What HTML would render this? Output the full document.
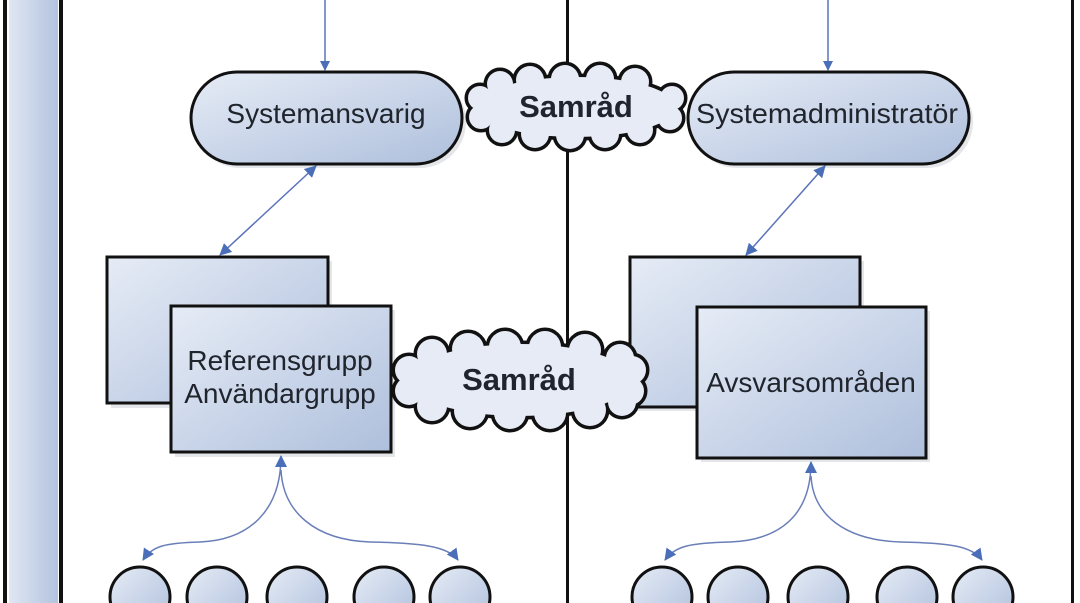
<!DOCTYPE html>
<html><head><meta charset="utf-8"><style>
html,body{margin:0;padding:0;background:#fff;}
svg{display:block;}
text{font-family:"Liberation Sans",Arial,sans-serif;fill:#20242c;}
</style></head><body>
<svg width="1080" height="603" viewBox="0 0 1080 603" xmlns="http://www.w3.org/2000/svg">
<defs>
<linearGradient id="g" x1="0" y1="0" x2="1" y2="1">
<stop offset="0" stop-color="#e6ecf6"/><stop offset="1" stop-color="#aebfdc"/>
</linearGradient>
<linearGradient id="gb" x1="0" y1="0" x2="1" y2="0">
<stop offset="0" stop-color="#dfe7f3"/><stop offset="1" stop-color="#b3c3df"/>
</linearGradient>
<marker id="ah" markerWidth="10" markerHeight="10" refX="9" refY="5" orient="auto" markerUnits="userSpaceOnUse">
<path d="M0,0 L10,5 L0,10 z" fill="#4a6fb8"/></marker>
<marker id="as" markerWidth="12" markerHeight="12" refX="1" refY="6" orient="auto" markerUnits="userSpaceOnUse">
<path d="M12,0 L0,6 L12,12 z" fill="#4a6fb8"/></marker>
<marker id="ae" markerWidth="12" markerHeight="12" refX="11" refY="6" orient="auto" markerUnits="userSpaceOnUse">
<path d="M0,0 L12,6 L0,12 z" fill="#4a6fb8"/></marker>
</defs>

<rect x="9" y="-5" width="49" height="620" fill="url(#gb)"/>
<rect x="3" y="-5" width="4" height="620" fill="#111"/>
<rect x="59" y="-5" width="4" height="620" fill="#111"/>
<rect x="566" y="0" width="3" height="603" fill="#111"/>
<rect x="1071" y="0" width="3" height="603" fill="#111"/>

<line x1="325" y1="0" x2="325" y2="70" stroke="#5a72bb" stroke-width="1.5" marker-end="url(#ah)"/>
<line x1="828" y1="0" x2="828" y2="70" stroke="#5a72bb" stroke-width="1.5" marker-end="url(#ah)"/>

<rect x="194" y="75" width="272" height="93" rx="46" fill="#e4e6ea"/>
<rect x="191" y="72" width="271" height="92" rx="46" fill="url(#g)" stroke="#111" stroke-width="3"/>
<text x="326" y="123" font-size="28" text-anchor="middle">Systemansvarig</text>
<rect x="691" y="75" width="282" height="93" rx="46" fill="#e4e6ea"/>
<rect x="688" y="72" width="281" height="92" rx="46" fill="url(#g)" stroke="#111" stroke-width="3"/>
<text x="827" y="123" font-size="28" text-anchor="middle" textLength="262" lengthAdjust="spacingAndGlyphs">Systemadministratör</text>

<!-- cloud 1 -->
<g stroke="#111" stroke-width="7" fill="#111">
<ellipse cx="576" cy="107" rx="100" ry="30"/>
<circle cx="500" cy="84" r="13"/><circle cx="530" cy="80" r="14"/><circle cx="565" cy="79" r="14"/><circle cx="600" cy="79" r="14"/><circle cx="635" cy="82" r="14"/>
<circle cx="502" cy="130" r="13"/><circle cx="535" cy="134" r="14"/><circle cx="570" cy="135" r="14"/><circle cx="605" cy="134" r="14"/><circle cx="640" cy="130" r="13"/>
<circle cx="480" cy="98" r="12"/><circle cx="481" cy="117" r="12"/><circle cx="672" cy="98" r="12"/><circle cx="670" cy="118" r="12"/>
</g>
<g fill="#e6ebf5">
<ellipse cx="576" cy="107" rx="100" ry="30"/>
<circle cx="500" cy="84" r="13"/><circle cx="530" cy="80" r="14"/><circle cx="565" cy="79" r="14"/><circle cx="600" cy="79" r="14"/><circle cx="635" cy="82" r="14"/>
<circle cx="502" cy="130" r="13"/><circle cx="535" cy="134" r="14"/><circle cx="570" cy="135" r="14"/><circle cx="605" cy="134" r="14"/><circle cx="640" cy="130" r="13"/>
<circle cx="480" cy="98" r="12"/><circle cx="481" cy="117" r="12"/><circle cx="672" cy="98" r="12"/><circle cx="670" cy="118" r="12"/>
</g>
<text x="576" y="117" font-size="31" font-weight="bold" text-anchor="middle">Samråd</text>

<line x1="316" y1="166" x2="220" y2="255" stroke="#5a72bb" stroke-width="1.5" marker-start="url(#as)" marker-end="url(#ae)"/>
<line x1="825" y1="166" x2="746" y2="255" stroke="#5a72bb" stroke-width="1.5" marker-start="url(#as)" marker-end="url(#ae)"/>

<rect x="111" y="261" width="221" height="147" fill="#e4e6ea"/>
<rect x="107" y="257" width="221" height="146" fill="url(#g)" stroke="#111" stroke-width="3"/>
<rect x="175" y="310" width="220" height="147" fill="#e4e6ea"/>
<rect x="171" y="306" width="220" height="146" fill="url(#g)" stroke="#111" stroke-width="3"/>
<text x="280" y="370" font-size="28" text-anchor="middle">Referensgrupp</text>
<text x="280" y="403" font-size="28" text-anchor="middle">Användargrupp</text>

<rect x="634" y="261" width="230" height="150" fill="#e4e6ea"/>
<rect x="630" y="257" width="230" height="150" fill="url(#g)" stroke="#111" stroke-width="3"/>
<rect x="701" y="311" width="229" height="151" fill="#e4e6ea"/>
<rect x="697" y="307" width="229" height="151" fill="url(#g)" stroke="#111" stroke-width="3"/>
<text x="811" y="392" font-size="28" text-anchor="middle">Avsvarsområden</text>

<!-- cloud 2 -->
<g stroke="#111" stroke-width="7" fill="#111">
<ellipse cx="520" cy="380" rx="112" ry="36"/>
<circle cx="432" cy="354" r="15"/><circle cx="468" cy="349" r="16"/><circle cx="505" cy="347" r="16"/><circle cx="545" cy="347" r="16"/><circle cx="585" cy="350" r="16"/><circle cx="620" cy="358" r="14"/>
<circle cx="432" cy="406" r="15"/><circle cx="470" cy="411" r="16"/><circle cx="510" cy="413" r="16"/><circle cx="550" cy="413" r="16"/><circle cx="590" cy="410" r="16"/><circle cx="622" cy="402" r="14"/>
<circle cx="409" cy="370" r="14"/><circle cx="409" cy="391" r="14"/><circle cx="632" cy="370" r="14"/><circle cx="630" cy="391" r="14"/>
</g>
<g fill="#e6ebf5">
<ellipse cx="520" cy="380" rx="112" ry="36"/>
<circle cx="432" cy="354" r="15"/><circle cx="468" cy="349" r="16"/><circle cx="505" cy="347" r="16"/><circle cx="545" cy="347" r="16"/><circle cx="585" cy="350" r="16"/><circle cx="620" cy="358" r="14"/>
<circle cx="432" cy="406" r="15"/><circle cx="470" cy="411" r="16"/><circle cx="510" cy="413" r="16"/><circle cx="550" cy="413" r="16"/><circle cx="590" cy="410" r="16"/><circle cx="622" cy="402" r="14"/>
<circle cx="409" cy="370" r="14"/><circle cx="409" cy="391" r="14"/><circle cx="632" cy="370" r="14"/><circle cx="630" cy="391" r="14"/>
</g>
<text x="519" y="390" font-size="31" font-weight="bold" text-anchor="middle">Samråd</text>

<g fill="none" stroke="#6a7fb8" stroke-width="1.5">
<path d="M281,456 C281,510 250,540 200,542 C165,543 152,546 143,560" marker-start="url(#as)" marker-end="url(#ae)"/>
<path d="M281,470 C283,512 315,540 370,542 C420,543 448,546 458,560" marker-end="url(#ae)"/>
<path d="M811,462 C811,515 780,540 730,542 C690,543 675,546 665,560" marker-start="url(#as)" marker-end="url(#ae)"/>
<path d="M811,476 C813,515 845,540 900,542 C950,543 972,546 982,560" marker-end="url(#ae)"/>
</g>

<g fill="url(#g)" stroke="#111" stroke-width="3">
<circle cx="140" cy="597" r="30"/><circle cx="217" cy="597" r="30"/><circle cx="297" cy="597" r="30"/><circle cx="384" cy="597" r="30"/><circle cx="460" cy="597" r="30"/>
<circle cx="662" cy="597" r="30"/><circle cx="738" cy="597" r="30"/><circle cx="818" cy="597" r="30"/><circle cx="907" cy="597" r="30"/><circle cx="983" cy="597" r="30"/>
</g>
</svg>
</body></html>
